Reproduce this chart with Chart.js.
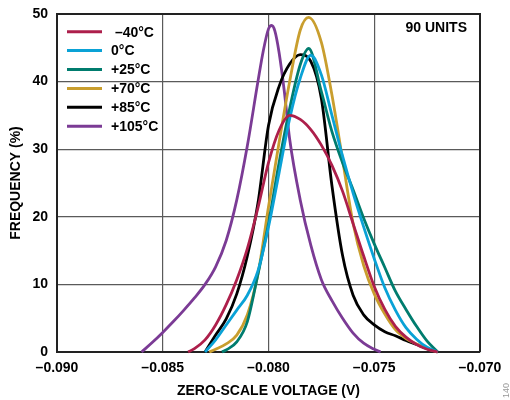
<!DOCTYPE html>
<html>
<head>
<meta charset="utf-8">
<script src="https://cdn.jsdelivr.net/npm/chart.js@4/dist/chart.umd.min.js"></script>
<style>
  html, body { margin: 0; padding: 0; background: #fff; }
</style>
</head>
<body>
<canvas id="c" width="510" height="400"></canvas>
<script>
// ---- data ----
const xTicks = [-0.090, -0.085, -0.080, -0.075, -0.070];
const yTicks = [0, 10, 20, 30, 40, 50];
const seriesLabels = [' \u201340\u00b0C', '0\u00b0C', '+25\u00b0C', '+70\u00b0C', '+85\u00b0C', '+105\u00b0C'];
const seriesColors = ['#ad1f4b', '#0aa2d6', '#007c6e', '#c99e2e', '#000000', '#7b3b95'];
const unitsNote = '90 UNITS';
const figNote = '140';

// -40°C
const vM40 = [-0.0838, -0.0835, -0.0830, -0.0825, -0.0820, -0.0815, -0.0810, -0.0805, -0.0800, -0.0795, -0.0790, -0.0785, -0.0780, -0.0775, -0.0770, -0.0765, -0.0760, -0.0755, -0.0750, -0.0745, -0.0740, -0.0735, -0.0730, -0.0725, -0.0720];
const fM40 = [0, 0.5, 1.8, 4.0, 7.0, 10.7, 15.3, 21.3, 28.0, 32.8, 35.0, 34.4, 32.9, 30.6, 27.6, 23.8, 19.0, 14.2, 9.7, 6.3, 3.8, 2.2, 1.1, 0.4, 0];
// 0°C
const v0 = [-0.0830, -0.0825, -0.0820, -0.0815, -0.0810, -0.0805, -0.0800, -0.0795, -0.0790, -0.0785, -0.0780, -0.0775, -0.0770, -0.0765, -0.0760, -0.0755, -0.0750, -0.0745, -0.0740, -0.0735, -0.0730, -0.0725, -0.0720];
const f0 = [0, 1.8, 4.0, 6.2, 8.4, 12.0, 18.5, 26.5, 34.5, 40.5, 43.9, 41.0, 35.0, 29.0, 23.5, 18.5, 13.8, 9.5, 6.2, 3.6, 1.9, 0.7, 0];
// +25°C
const v25 = [-0.0822, -0.0820, -0.0815, -0.0810, -0.0805, -0.0800, -0.0795, -0.0790, -0.0785, -0.0781, -0.0775, -0.0770, -0.0765, -0.0760, -0.0755, -0.0750, -0.0745, -0.0740, -0.0735, -0.0730, -0.0725, -0.0720];
const f25 = [0, 0.3, 1.5, 4.5, 11.5, 19.0, 28.0, 36.0, 42.5, 44.9, 38.5, 32.6, 28.0, 24.0, 19.8, 16.0, 12.5, 9.0, 6.3, 3.8, 1.6, 0];
// +70°C
const v70 = [-0.0828, -0.0825, -0.0820, -0.0815, -0.0810, -0.0805, -0.0800, -0.0795, -0.0790, -0.0785, -0.0781, -0.0775, -0.0770, -0.0765, -0.0760, -0.0755, -0.0750, -0.0745, -0.0740, -0.0735, -0.0730, -0.0725, -0.0720];
const f70 = [0, 0.4, 1.2, 2.5, 5.5, 11.5, 21.5, 31.0, 40.0, 47.6, 49.5, 45.8, 38.0, 28.5, 19.0, 12.8, 8.6, 5.6, 3.3, 2.0, 1.2, 0.5, 0];
// +85°C
const v85 = [-0.0830, -0.0825, -0.0820, -0.0815, -0.0810, -0.0805, -0.0800, -0.0795, -0.0790, -0.0785, -0.0780, -0.0775, -0.0770, -0.0765, -0.0760, -0.0755, -0.0750, -0.0745, -0.0740, -0.0735, -0.0730, -0.0725, -0.0720];
const f85 = [0, 2.5, 4.9, 8.6, 14.2, 22.0, 33.5, 39.3, 42.6, 44.0, 43.0, 37.5, 24.6, 14.3, 8.4, 5.5, 4.0, 3.0, 2.4, 1.7, 1.1, 0.5, 0];
// +105°C
const v105 = [-0.0860, -0.0855, -0.0850, -0.0845, -0.0840, -0.0835, -0.0830, -0.0825, -0.0820, -0.0815, -0.0810, -0.0805, -0.08025, -0.0800, -0.07985, -0.0797, -0.0795, -0.07925, -0.0790, -0.0785, -0.0780, -0.0775, -0.0770, -0.0765, -0.0760, -0.0755, -0.0750, -0.0747];
const f105 = [0, 1.4, 2.9, 4.5, 6.2, 8.0, 10.0, 12.6, 16.5, 22.5, 30.5, 40.0, 44.5, 47.8, 48.3, 47.5, 44.3, 38.5, 31.5, 22.5, 15.8, 10.7, 7.6, 5.0, 2.8, 1.3, 0.4, 0];

const seriesX = [vM40, v0, v25, v70, v85, v105];
const seriesY = [fM40, f0, f25, f70, f85, f105];

// ---- chart ----
const FONT = "'Liberation Sans', Arial, sans-serif";
const boldFont = { family: FONT, size: 14, weight: 'bold' };

const datasets = seriesLabels.map((lab, i) => ({
  label: lab,
  data: seriesX[i].map((x, k) => ({ x: x, y: seriesY[i][k] })),
  borderColor: seriesColors[i],
  backgroundColor: seriesColors[i],
  borderWidth: 2.8,
  pointRadius: 0,
  fill: false,
  cubicInterpolationMode: 'monotone',
  clip: 4
}));

const fmtV = v => (v < 0 ? '\u2013' : '') + Math.abs(v).toFixed(3);

const decor = {
  id: 'decor',
  beforeDatasetsDraw(chart) {
    const { ctx, chartArea: a } = chart;
    ctx.save();
    ctx.strokeStyle = '#222';
    ctx.lineWidth = 2;
    ctx.beginPath();
    ctx.moveTo(a.left, a.top);
    ctx.lineTo(a.right, a.top);
    ctx.lineTo(a.right, a.bottom);
    ctx.stroke();
    ctx.restore();
  },
  afterDatasetsDraw(chart) {
    const { ctx, chartArea: a } = chart;
    ctx.save();
    ctx.font = 'bold 14px ' + FONT;
    ctx.textBaseline = 'middle';
    chart.data.datasets.forEach((ds, i) => {
      const y = a.top + 17.7 + i * 18.9;
      ctx.strokeStyle = ds.borderColor;
      ctx.lineWidth = 3;
      ctx.beginPath();
      ctx.moveTo(a.left + 10, y);
      ctx.lineTo(a.left + 45, y);
      ctx.stroke();
      ctx.fillStyle = '#000';
      ctx.textAlign = 'left';
      ctx.fillText(ds.label, a.left + 54, y + 1);
    });
    ctx.textAlign = 'right';
    ctx.fillText(unitsNote, a.right - 13, a.top + 14.5);
    ctx.restore();
    ctx.save();
    ctx.translate(507, 398);
    ctx.rotate(-Math.PI / 2);
    ctx.font = '9px ' + FONT;
    ctx.fillStyle = '#999';
    ctx.textAlign = 'left';
    ctx.textBaseline = 'middle';
    ctx.fillText(figNote, 0, 0);
    ctx.restore();
  }
};

new Chart(document.getElementById('c'), {
  type: 'line',
  data: { datasets },
  options: {
    responsive: false,
    animation: false,
    events: [],
    layout: { padding: { left: 0, top: 14, right: 30, bottom: 0 } },
    scales: {
      x: {
        type: 'linear',
        min: -0.090,
        max: -0.070,
        afterBuildTicks: s => { s.ticks = xTicks.map(v => ({ value: v })); },
        afterFit: s => { s.height = 48; s.paddingLeft = 0; s.paddingRight = 0; },
        ticks: { callback: v => fmtV(v), font: boldFont, color: '#000', padding: 8, maxRotation: 0, autoSkip: false },
        grid: { color: '#5a5a5a', lineWidth: 1.2, drawTicks: false },
        border: { color: '#222', width: 2 },
        title: { display: true, text: 'ZERO-SCALE VOLTAGE (V)', font: boldFont, color: '#000', padding: { top: 0, bottom: 0 } }
      },
      y: {
        type: 'linear',
        min: 0,
        max: 50,
        afterBuildTicks: s => { s.ticks = yTicks.map(v => ({ value: v })); },
        afterFit: s => { s.width = 57; s.paddingTop = 0; s.paddingBottom = 0; },
        ticks: { callback: v => String(v), font: boldFont, color: '#000', padding: 9 },
        grid: { color: '#5a5a5a', lineWidth: 1.2, drawTicks: false },
        border: { color: '#222', width: 2 },
        title: { display: true, text: 'FREQUENCY (%)', font: boldFont, color: '#000', padding: { top: 8, bottom: 0 } }
      }
    },
    plugins: { legend: { display: false }, tooltip: { enabled: false } }
  },
  plugins: [decor]
});
</script>
</body>
</html>
